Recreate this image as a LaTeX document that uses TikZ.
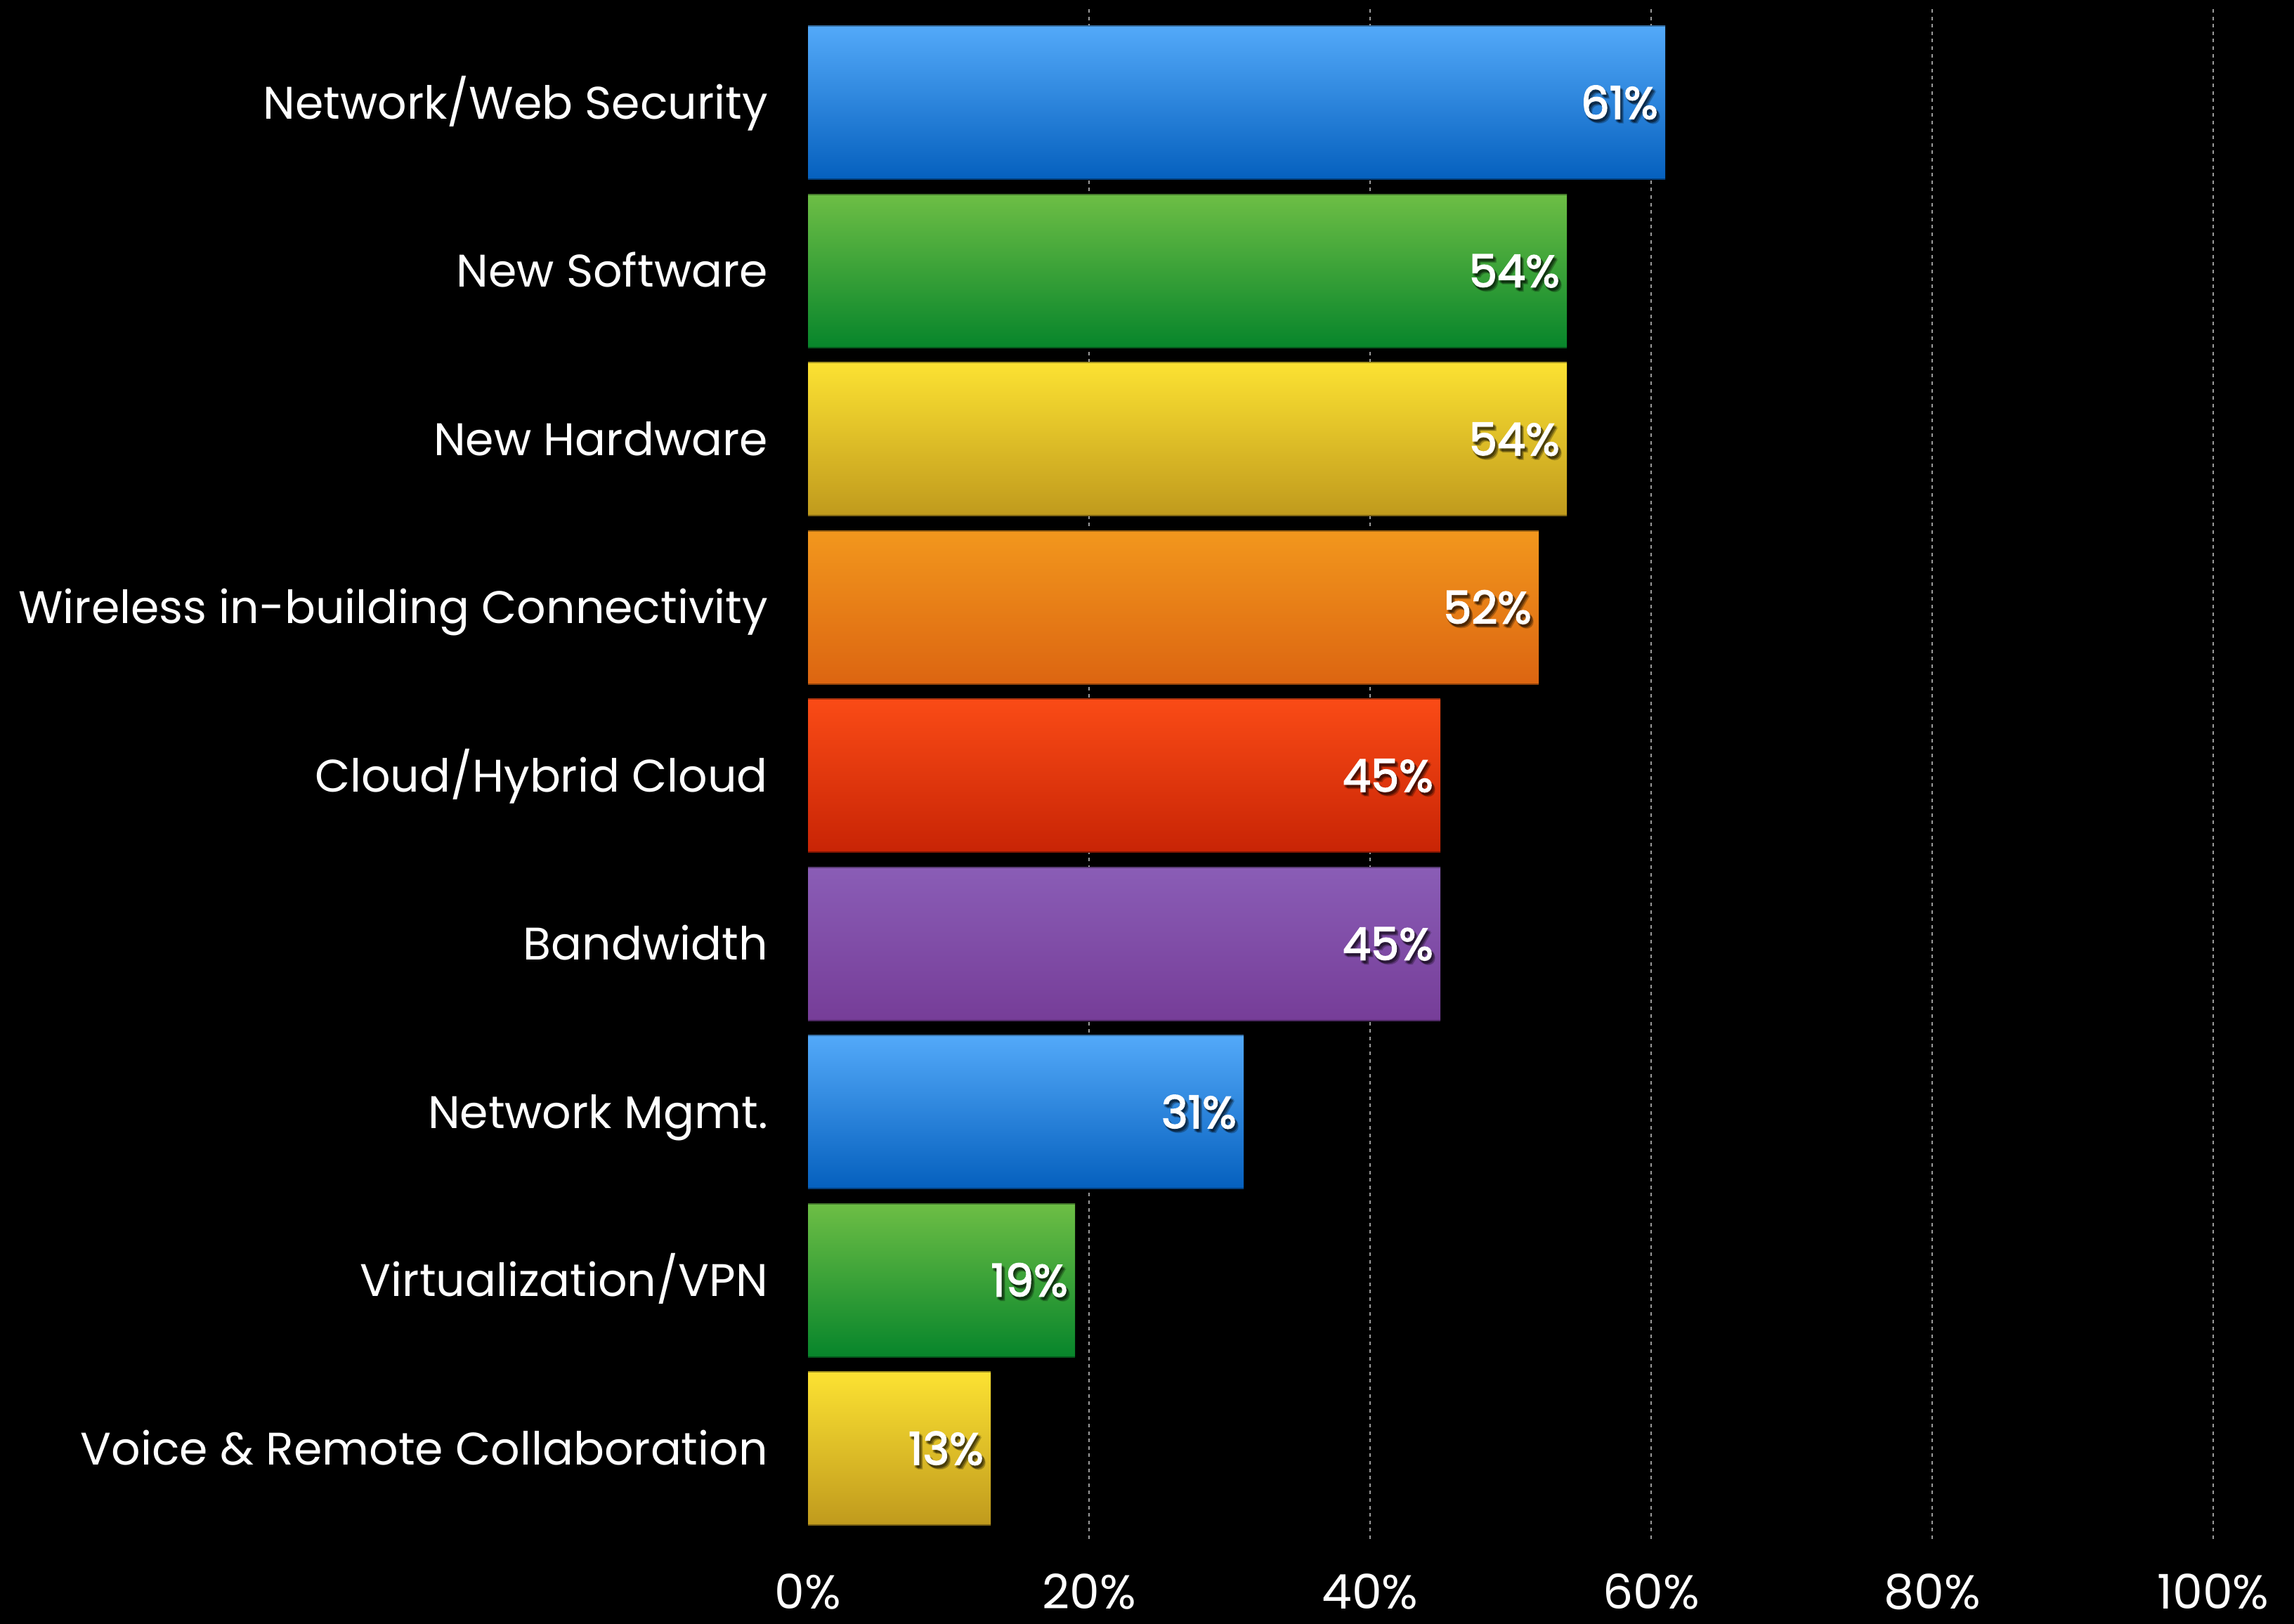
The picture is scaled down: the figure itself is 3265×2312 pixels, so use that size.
\documentclass[tikz,border=0pt]{standalone}
\usepackage{fontspec}
\setmainfont{Poppins}
\newfontfamily\valfont[FakeBold=2.4]{Poppins}

% bar gradients: top / bottom colours
\definecolor{blueT}{HTML}{53A9F9}\definecolor{blueB}{HTML}{0560BE}
\definecolor{greenT}{HTML}{6DBE45}\definecolor{greenB}{HTML}{07852B}
\definecolor{yellowT}{HTML}{FCE232}\definecolor{yellowB}{HTML}{C09A1D}
\definecolor{orangeT}{HTML}{F2971D}\definecolor{orangeB}{HTML}{DC6511}
\definecolor{redT}{HTML}{FA4B16}\definecolor{redB}{HTML}{C82405}
\definecolor{purpleT}{HTML}{8A5DB6}\definecolor{purpleB}{HTML}{763D98}
\definecolor{gridgray}{HTML}{9A9A9A}

\tikzset{
  gridline/.style={draw=gridgray, line width=2pt, dash pattern=on 5pt off 5.6pt},
  barbox/.style={anchor=north west, inner sep=0pt, outer sep=0pt, draw=none,
                 minimum height=218pt},
  catlabel/.style={anchor=base east, inner sep=0pt, text=white,
                   font=\fontsize{65}{71}\selectfont},
  vallabel/.style={anchor=base east, inner sep=0pt, text=white,
                   font=\fontsize{64}{70}\selectfont\valfont},
  valshadow/.style={anchor=base east, inner sep=0pt, text=black, text opacity=0.16,
                   font=\fontsize{64}{70}\selectfont\valfont},
  ticklabel/.style={anchor=base, inner sep=0pt, text=white,
                   font=\fontsize{68}{74}\selectfont},
}

\begin{document}
\begin{tikzpicture}[x=1pt, y=-1pt]
  % canvas
  \fill[black] (0,0) rectangle (3265,2312);
  \useasboundingbox (0,0) rectangle (3265,2312);

  % vertical dashed grid lines at 20% steps (20 px per percent, 0% at x=1150)
  \foreach \p in {20,40,60,80,100}{
    \coordinate (gt\p) at ({1150+20*\p},13);
    \coordinate (gb\p) at ({1150+20*\p},2195);
    \draw[gridline] (gt\p) -- (gb\p);
  }

  % axis tick labels
  \foreach \p in {0,20,40,60,80,100}{
    \node[ticklabel] (tick\p) at ({1150+20*\p},2290) {\p\%};
  }

  % bars
  \foreach \i/\v/\c/\lab in {
      0/61/blue/{Network/Web Security},
      1/54/green/{New Software},
      2/54/yellow/{New Hardware},
      3/52/orange/{Wireless in-building Connectivity},
      4/45/red/{Cloud/Hybrid Cloud},
      5/45/purple/{Bandwidth},
      6/31/blue/{Network Mgmt.},
      7/19/green/{Virtualization/VPN},
      8/13/yellow/{Voice \& Remote Collaboration}}{
    \pgfmathsetmacro{\top}{37+239.5*\i}
    \pgfmathsetmacro{\w}{20*\v}
    \node[barbox, minimum width=\w pt, top color=\c T, bottom color=\c B]
      (bar\i) at (1150,\top) {};
    \draw[line width=2pt, \c T!65!black] (bar\i.north west) -- (bar\i.north east);
    \draw[line width=2pt, \c B!65!black] (bar\i.south west) -- (bar\i.south east);
    % soft drop shadow under the value text
    \foreach \dx/\dy in {2/3,4/4,3/5,5/6,1/4}{
      \node[valshadow] at ([xshift=\dx pt, yshift=-\dy pt]bar\i.east) [yshift=-23pt, xshift=-10pt] {\v\%};
    }
    \node[vallabel] (val\i) at ([xshift=-10pt, yshift=-23pt]bar\i.east) {\v\%};
    \node[catlabel] (cat\i) at ([yshift=-23pt]1093,{\top+109}) {\lab};
  }
\end{tikzpicture}
\end{document}
